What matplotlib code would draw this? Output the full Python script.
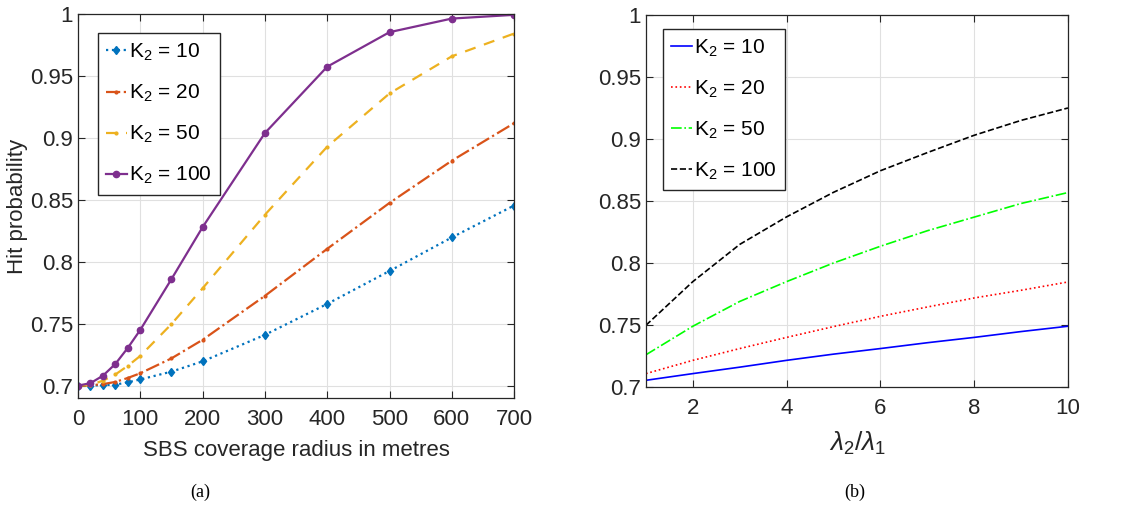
import matplotlib.pyplot as plt
import numpy as np

plt.rcParams['font.family'] = ['Liberation Sans', 'DejaVu Sans']
plt.rcParams['mathtext.fontset'] = 'custom'
plt.rcParams['mathtext.rm'] = 'Liberation Sans'
plt.rcParams['mathtext.it'] = 'Liberation Sans:italic'

# (a) hit probability vs SBS coverage radius
radius = [0, 20, 40, 60, 80, 100, 150, 200, 300, 400, 500, 600, 700]
hit_k10 = [0.700, 0.7001, 0.7004, 0.7008, 0.7027, 0.705, 0.7113, 0.7196, 0.741, 0.766, 0.7926, 0.8197, 0.8455]
hit_k20 = [0.700, 0.7003, 0.7012, 0.703, 0.7062, 0.710, 0.722, 0.737, 0.7725, 0.8105, 0.8476, 0.8817, 0.912]
hit_k50 = [0.700, 0.7005, 0.704, 0.709, 0.716, 0.724, 0.7497, 0.7786, 0.838, 0.893, 0.936, 0.966, 0.9844]
hit_k100 = [0.700, 0.702, 0.708, 0.7175, 0.7305, 0.745, 0.786, 0.828, 0.904, 0.9576, 0.9855, 0.9965, 0.9995]

# (b) hit probability vs density ratio
ratio = [1, 2, 3, 4, 5, 6, 7, 8, 9, 10]
ratio_k10 = [0.7054, 0.7108, 0.716, 0.7215, 0.7265, 0.731, 0.7357, 0.740, 0.7447, 0.749]
ratio_k20 = [0.7108, 0.7215, 0.731, 0.740, 0.7487, 0.757, 0.7645, 0.7718, 0.778, 0.7847]
ratio_k50 = [0.726, 0.749, 0.769, 0.785, 0.800, 0.8135, 0.826, 0.837, 0.848, 0.8568]
ratio_k100 = [0.7498, 0.785, 0.815, 0.8372, 0.857, 0.8744, 0.889, 0.903, 0.915, 0.925]

labels = [r'K$_\mathregular{2}$ = 10', r'K$_\mathregular{2}$ = 20',
          r'K$_\mathregular{2}$ = 50', r'K$_\mathregular{2}$ = 100']

fig = plt.figure(figsize=(11.25, 5.08), dpi=100)
axa = fig.add_axes([0.0693, 0.2165, 0.3877, 0.7555])
axb = fig.add_axes([0.5742, 0.2382, 0.3751, 0.7323])

axa.plot(radius, hit_k10, ':', color='#0072BD', lw=1.6, marker='d', ms=4.5, label=labels[0])
axa.plot(radius, hit_k20, '-.', color='#D95319', lw=1.6, marker='.', ms=4, label=labels[1])
axa.plot(radius, hit_k50, '--', color='#EDB120', lw=1.6, marker='.', ms=4, dashes=(5, 4), label=labels[2])
axa.plot(radius, hit_k100, '-', color='#7E2F8E', lw=1.6, marker='o', ms=4.5, label=labels[3])
axa.set_xlim(0, 700)
axa.set_ylim(0.69, 1)
axa.set_xticks(range(0, 701, 100))
axa.set_yticks([0.7, 0.75, 0.8, 0.85, 0.9, 0.95, 1])
axa.set_yticklabels(['0.7', '0.75', '0.8', '0.85', '0.9', '0.95', '1'])
axa.set_xlabel('SBS coverage radius in metres', fontsize=16, color='#262626', labelpad=7)
axa.set_ylabel('Hit probability', fontsize=16, color='#262626', labelpad=1)

axb.plot(ratio, ratio_k10, '-', color='blue', lw=1.2, label=labels[0])
axb.plot(ratio, ratio_k20, ':', color='red', lw=1.2, label=labels[1])
axb.plot(ratio, ratio_k50, '-.', color='#00ff00', lw=1.2, label=labels[2])
axb.plot(ratio, ratio_k100, '--', color='black', lw=1.2, label=labels[3])
axb.set_xlim(1, 10)
axb.set_ylim(0.7, 1)
axb.set_xticks([2, 4, 6, 8, 10])
axb.set_yticks([0.7, 0.75, 0.8, 0.85, 0.9, 0.95, 1])
axb.set_yticklabels(['0.7', '0.75', '0.8', '0.85', '0.9', '0.95', '1'])
axb.set_xlabel(r'$\lambda_\mathregular{2}/\lambda_\mathregular{1}$', fontsize=19, color='#262626', labelpad=8)

for ax, anchor in ((axa, (0.045, 0.95)), (axb, (0.04, 0.962))):
    ax.legend(loc='upper left', bbox_to_anchor=anchor, fontsize=15, handlelength=1.0,
              handletextpad=0.1, borderpad=0.4, labelspacing=0.95, fancybox=False,
              edgecolor='#262626', framealpha=1, borderaxespad=0)
    ax.grid(True, color='#e0e0e0', lw=0.8)
    ax.set_axisbelow(True)
    ax.tick_params(direction='in', top=True, right=True, labelsize=16,
                   colors='#262626', length=5, width=0.8)
    ax.tick_params(axis='x', pad=8)
    for s in ax.spines.values():
        s.set_color('#262626')
        s.set_linewidth(0.9)

fig.text(0.178, 0.022, '(a)', family='Liberation Serif', fontsize=13, ha='center')
fig.text(0.760, 0.022, '(b)', family='Liberation Serif', fontsize=13, ha='center')

fig.savefig('out.png', dpi=100)
